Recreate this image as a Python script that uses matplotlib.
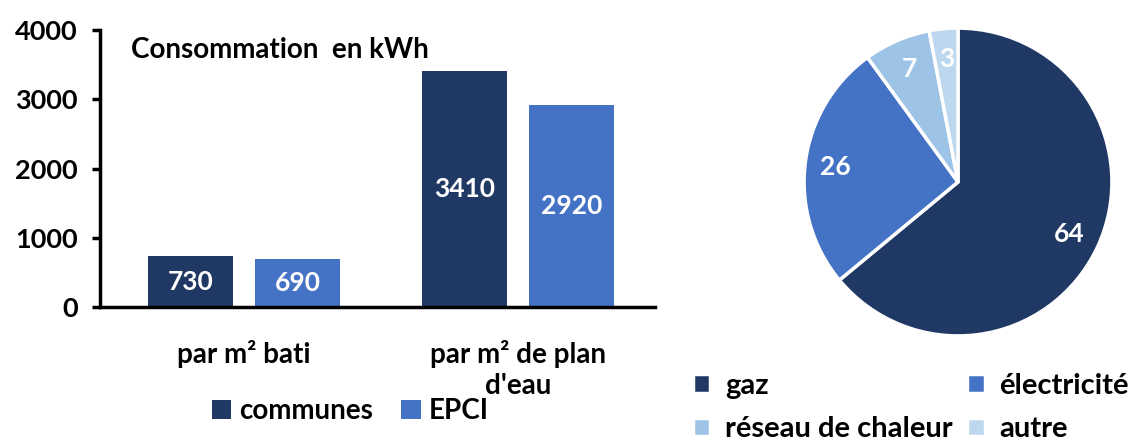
import matplotlib.pyplot as plt
import numpy as np

plt.rcParams['font.family'] = ['Lato', 'DejaVu Sans']
plt.rcParams['font.weight'] = 'bold'

categories = ['par m² bati', 'par m² de plan\nd\'eau']
communes = [730, 3410]
epci = [690, 2920]
series_names = ['communes', 'EPCI']

energy_labels = ['gaz', 'électricité', 'réseau de chaleur', 'autre']
energy_shares = [64, 26, 7, 3]

dark = '#203864'
mid = '#4472C4'
pie_colors = [dark, mid, '#9DC3E6', '#BDD7EE']

fig = plt.figure(figsize=(11.3, 4.43), dpi=100)

# bar chart
ax = fig.add_axes([100 / 1130, 0.307, 555 / 1130, 0.625])
x = np.arange(len(categories))
w = 0.31
b1 = ax.bar(x - w / 2 - 0.04, communes, w, color=dark, label=series_names[0])
b2 = ax.bar(x + w / 2 + 0.04, epci, w, color=mid, label=series_names[1])
for bars in (b1, b2):
    for rect in bars:
        h = rect.get_height()
        ax.text(rect.get_x() + rect.get_width() / 2, h / 2, f'{int(h)}',
                ha='center', va='center', color='white', fontsize=19, fontweight='bold')

ax.set_xlim(-0.526, 1.5)
ax.set_ylim(0, 4000)
ax.set_yticks([0, 1000, 2000, 3000, 4000])
ax.set_xticks(x)
ax.set_xticklabels(categories, fontsize=20, linespacing=1.2, va='top')
ax.tick_params(axis='x', length=0, pad=24)
ax.tick_params(axis='y', labelsize=19.5, width=2.5, length=6, pad=10)
for s in ['top', 'right']:
    ax.spines[s].set_visible(False)
for s in ['left', 'bottom']:
    ax.spines[s].set_linewidth(2.5)
ax.text(0.055, 0.975, 'Consommation  en kWh', transform=ax.transAxes,
        fontsize=20, fontweight='bold', va='top')
fig.legend(handles=[b1, b2], labels=series_names, loc='center',
           bbox_to_anchor=(0.31, 0.072), ncol=2, frameon=False,
           fontsize=20, handlelength=0.7, handleheight=0.7, columnspacing=1.0,
           handletextpad=0.3)

# pie chart
pax = fig.add_axes([(958 - 157) / 1130, (443 - 182 - 157) / 443, 314 / 1130, 314 / 443])
wedges, texts = pax.pie(energy_shares, colors=pie_colors, startangle=90,
                        counterclock=False, radius=1,
                        labels=[str(v) for v in energy_shares], labeldistance=0.8,
                        wedgeprops=dict(edgecolor='white', linewidth=2.5))
for t in texts:
    t.set_color('white')
    t.set_fontsize(19)
    t.set_fontweight('bold')
    t.set_ha('center')
    t.set_va('center')
pax.set_xlim(-1.02, 1.02)
pax.set_ylim(-1.02, 1.02)
pax.set_aspect('equal')

# legend filled row by row like the original
order = [0, 2, 1, 3]
fig.legend([wedges[i] for i in order], [energy_labels[i] for i in order],
           loc='center left', bbox_to_anchor=(0.59, 0.08),
           ncol=2, frameon=False, fontsize=21, handlelength=0.6, handleheight=0.6,
           columnspacing=0.5, handletextpad=0.5, labelspacing=0.6)

fig.savefig('out.png', dpi=100)
